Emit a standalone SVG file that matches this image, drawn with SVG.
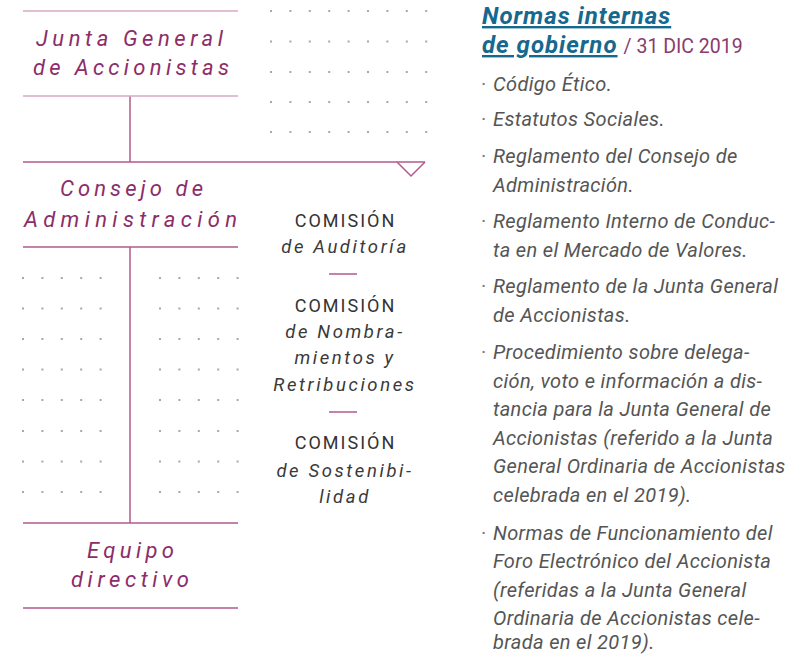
<svg xmlns="http://www.w3.org/2000/svg" width="810" height="654" viewBox="0 0 810 654">
<defs>
<style>
.bg{fill:#ffffff}
.ln{stroke:#b35a8d;stroke-width:1.5;fill:none}
.lnl{stroke:#d7a8c5;stroke-width:1.5;fill:none}
.dots{stroke:#a8a8a8;stroke-width:2;stroke-dasharray:2 17.4;fill:none}
.org{font-family:Roboto,"Liberation Sans",sans-serif;font-style:italic;font-size:22px;fill:#8b2d69;text-anchor:middle}
.cap{font-family:Roboto,"Liberation Sans",sans-serif;font-size:18px;letter-spacing:2px;fill:#333333;text-anchor:middle}
.com{font-family:Roboto,"Liberation Sans",sans-serif;font-style:italic;font-size:18.5px;letter-spacing:2.6px;fill:#3a3a3a;text-anchor:middle}
.hd{font-family:Roboto,"Liberation Sans",sans-serif;font-style:italic;font-weight:bold;font-size:24px;letter-spacing:1px;fill:#17688f;text-decoration:underline}
.dt{font-family:Roboto,"Liberation Sans",sans-serif;font-size:19.5px;fill:#8b3a6c}
.li{font-family:Roboto,"Liberation Sans",sans-serif;font-style:italic;font-size:20px;letter-spacing:0.35px;fill:#555555}
.bu{font-family:Roboto,"Liberation Sans",sans-serif;font-size:20px;fill:#777777}
</style>
</defs>
<rect class="bg" x="0" y="0" width="810" height="654"/>

<g id="dot-grids">
<path class="dots" d="M270 11H428M270 41.5H428M270 72H428M270 102H428M270 132H428"/>
<path class="dots" d="M22 278H104M22 308.5H104M22 339H104M22 369.5H104M22 400H104M22 431H104M22 461.5H104M22 492H104"/>
<path class="dots" d="M159 278H240M159 308.5H240M159 339H240M159 369.5H240M159 400H240M159 431H240M159 461.5H240M159 492H240"/>
</g>

<g id="connectors">
<path class="ln" d="M130 96V162"/>
<path class="ln" d="M23 162H425"/>
<path class="ln" d="M397 162L411 176L425 162"/>
<path class="ln" d="M130 247V523"/>
</g>

<g id="junta-general">
<path class="lnl" d="M23 11H238"/>
<path class="lnl" d="M23 96H238"/>
<text class="org" x="129.5" y="46" textLength="187" lengthAdjust="spacing">Junta General</text>
<text class="org" x="131" y="75" textLength="196" lengthAdjust="spacing">de Accionistas</text>
</g>

<g id="consejo">
<path class="ln" d="M23 247H238"/>
<text class="org" x="131.5" y="196" textLength="143" lengthAdjust="spacing">Consejo de</text>
<text class="org" x="130.5" y="227" textLength="213" lengthAdjust="spacing">Administración</text>
</g>

<g id="equipo-directivo">
<path class="ln" d="M23 523H238"/>
<path class="ln" d="M23 608H238"/>
<text class="org" x="130.5" y="558" textLength="87" lengthAdjust="spacing">Equipo</text>
<text class="org" x="130" y="587" textLength="118" lengthAdjust="spacing">directivo</text>
</g>

<g id="comisiones">
<text class="cap" x="345.5" y="227">COMISIÓN</text>
<text class="com" x="345" y="253">de Auditoría</text>
<path class="ln" d="M329 274H357"/>
<text class="cap" x="345.5" y="312">COMISIÓN</text>
<text class="com" x="345" y="338">de Nombra-</text>
<text class="com" x="345" y="364">mientos y</text>
<text class="com" x="345" y="391">Retribuciones</text>
<path class="ln" d="M329 412H357"/>
<text class="cap" x="345.5" y="449">COMISIÓN</text>
<text class="com" x="345" y="477">de Sostenibi-</text>
<text class="com" x="345" y="503">lidad</text>
</g>

<g id="normas">
<text class="hd" x="482" y="24">Normas internas </text>
<text x="482" y="53"><tspan class="hd">de gobierno</tspan><tspan class="dt" dx="6">/ 31 DIC 2019</tspan></text>
<text class="bu" x="481" y="91">·</text><text class="li" x="493" y="91">Código Ético.</text>
<text class="bu" x="481" y="126">·</text><text class="li" x="493" y="126">Estatutos Sociales.</text>
<text class="bu" x="481" y="163">·</text><text class="li" x="493" y="163">Reglamento del Consejo de</text>
<text class="li" x="493" y="192">Administración.</text>
<text class="bu" x="481" y="228">·</text><text class="li" x="493" y="228">Reglamento Interno de Conduc-</text>
<text class="li" x="493" y="257">ta en el Mercado de Valores.</text>
<text class="bu" x="481" y="293">·</text><text class="li" x="493" y="293">Reglamento de la Junta General</text>
<text class="li" x="493" y="322">de Accionistas.</text>
<text class="bu" x="481" y="359">·</text><text class="li" x="493" y="359">Procedimiento sobre delega-</text>
<text class="li" x="493" y="388">ción, voto e información a dis-</text>
<text class="li" x="493" y="416">tancia para la Junta General de</text>
<text class="li" x="493" y="445">Accionistas (referido a la Junta</text>
<text class="li" x="493" y="473">General Ordinaria de Accionistas</text>
<text class="li" x="493" y="502">celebrada en el 2019).</text>
<text class="bu" x="481" y="540">·</text><text class="li" x="493" y="540">Normas de Funcionamiento del</text>
<text class="li" x="493" y="568">Foro Electrónico del Accionista</text>
<text class="li" x="493" y="597">(referidas a la Junta General</text>
<text class="li" x="493" y="625">Ordinaria de Accionistas cele-</text>
<text class="li" x="493" y="649">brada en el 2019).</text>
</g>
</svg>
